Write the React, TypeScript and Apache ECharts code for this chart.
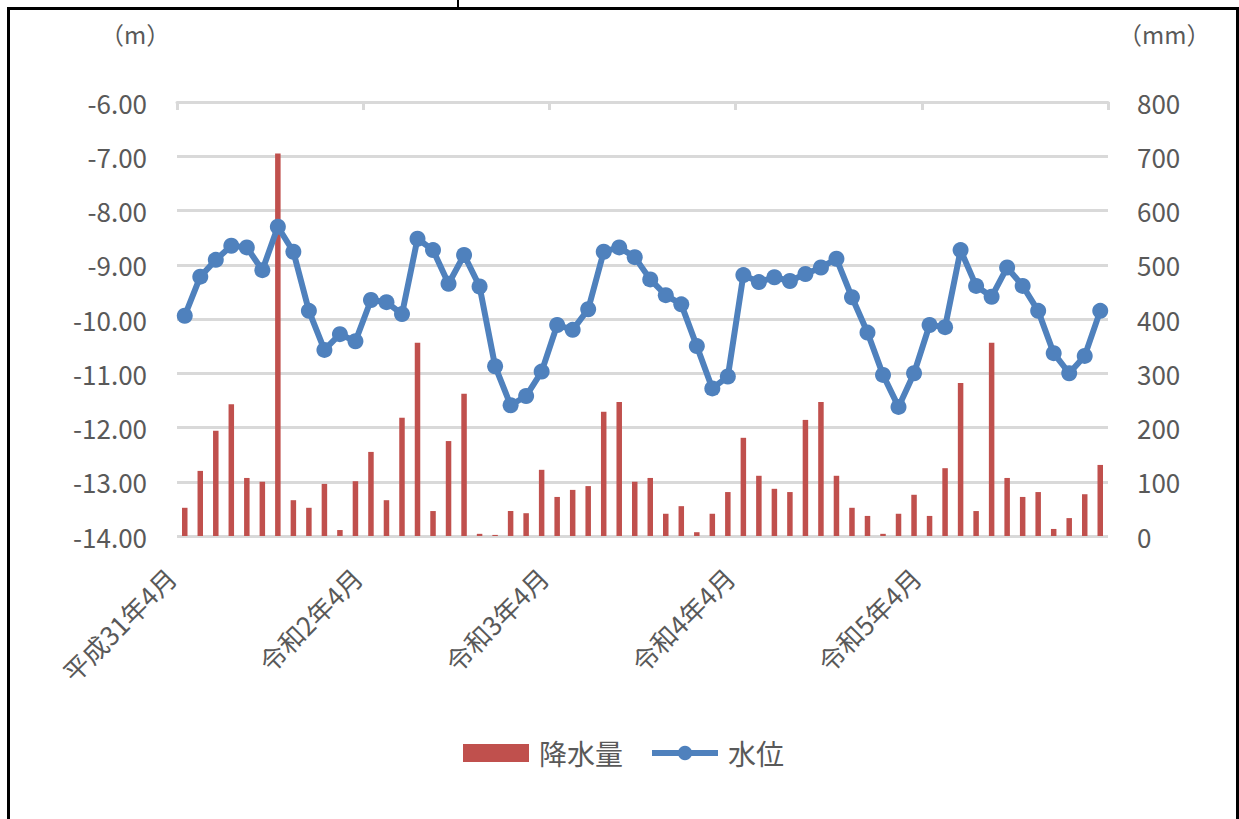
import React, { useEffect, useRef } from "react";
import * as echarts from "echarts";

// Monthly categories: 平成31年4月 … 令和6年3月 (60 months)
const months: string[] = (() => {
  const out: string[] = [];
  for (let k = 0; k < 60; k++) {
    const m0 = 3 + k; // 0-based month index from Jan 2019
    const year = 2019 + Math.floor(m0 / 12);
    const month = (m0 % 12) + 1;
    let era: string;
    if (year === 2019 && month === 4) era = "平成31年";
    else if (year === 2019) era = "令和元年";
    else era = `令和${year - 2018}年`;
    out.push(`${era}${month}月`);
  }
  return out;
})();

// 水位 (m)
const waterLevel: number[] = [
  -9.94, -9.22, -8.91, -8.65, -8.68, -9.10, -8.30, -8.76, -9.85, -10.57,
  -10.28, -10.41, -9.65, -9.69, -9.91, -8.52, -8.73, -9.35, -8.82, -9.40,
  -10.87, -11.59, -11.42, -10.97, -10.11, -10.20, -9.82, -8.76, -8.68, -8.86,
  -9.27, -9.56, -9.73, -10.50, -11.28, -11.06, -9.19, -9.32, -9.23, -9.30,
  -9.17, -9.05, -8.89, -9.60, -10.25, -11.03, -11.62, -11.00, -10.11, -10.15,
  -8.73, -9.39, -9.59, -9.05, -9.39, -9.85, -10.63, -11.00, -10.68, -9.85,
];

// 降水量 (mm)
const rainfall: number[] = [
  52, 120, 194, 243, 107, 100, 705, 66, 52, 96,
  11, 101, 155, 66, 218, 356, 46, 175, 262, 4,
  2, 46, 42, 122, 72, 85, 92, 229, 247, 100,
  107, 41, 55, 7, 41, 81, 181, 111, 87, 81,
  214, 247, 111, 52, 37, 4, 41, 76, 37, 125,
  282, 46, 356, 107, 72, 81, 13, 33, 77, 131,
];

const leftUnit = "（m）";
const rightUnit = "（mm）";
const seriesNames = ["降水量", "水位"];

const FONT = "'Noto Sans CJK JP', 'Noto Sans', sans-serif";
const TEXT_COLOR = "#595959";
const GRID_COLOR = "#d9d9d9";
const LINE_COLOR = "#4f81bd";
const BAR_COLOR = "#c0504d";

export default function App() {
  const ref = useRef<HTMLDivElement>(null);
  useEffect(() => {
    document.body.style.margin = "0";
    const chart = echarts.init(ref.current!, undefined, { renderer: "svg" });
    chart.setOption({
      animation: false,
      backgroundColor: "#ffffff",
      textStyle: { fontFamily: FONT },
      grid: { left: 177, right: 131, top: 102, bottom: 283, containLabel: false },
      legend: {
        left: 463,
        top: 739,
        padding: 0,
        itemWidth: 66,
        itemHeight: 18,
        itemGap: 26,
        textStyle: { fontSize: 28, color: TEXT_COLOR, fontFamily: FONT, padding: [0, 0, 0, 5] },
        data: [
          { name: seriesNames[0], icon: "rect" },
          { name: seriesNames[1], lineStyle: { width: 6, color: LINE_COLOR } },
        ],
      },
      xAxis: [
        {
          type: "category",
          data: months,
          position: "bottom",
          boundaryGap: true,
          axisLine: { show: false },
          axisTick: { show: false },
          axisLabel: {
            interval: 11,
            rotate: 45,
            margin: 22,
            padding: [0, 20, 0, 0],
            fontSize: 26,
            color: TEXT_COLOR,
            fontFamily: FONT,
          },
          splitLine: { show: false },
        },
        {
          type: "category",
          data: months,
          position: "top",
          boundaryGap: true,
          axisLine: { show: true, lineStyle: { color: GRID_COLOR, width: 3 } },
          axisTick: {
            show: true,
            inside: true,
            interval: 11,
            length: 8,
            lineStyle: { color: GRID_COLOR, width: 3 },
          },
          axisLabel: { show: false },
          splitLine: { show: false },
        },
      ],
      yAxis: [
        {
          type: "value",
          min: -14,
          max: -6,
          interval: 1,
          position: "left",
          axisLine: { show: false },
          axisTick: { show: false },
          axisLabel: {
            margin: 30,
            fontSize: 26,
            color: TEXT_COLOR,
            fontFamily: FONT,
            formatter: (v: number) => v.toFixed(2),
          },
          splitLine: { show: true, lineStyle: { color: GRID_COLOR, width: 3 } },
        },
        {
          type: "value",
          min: 0,
          max: 800,
          interval: 100,
          position: "right",
          axisLine: { show: false },
          axisTick: { show: false },
          axisLabel: {
            margin: 29,
            fontSize: 26,
            color: TEXT_COLOR,
            fontFamily: FONT,
          },
          splitLine: { show: false },
        },
      ],
      series: [
        {
          name: seriesNames[0],
          type: "bar",
          xAxisIndex: 0,
          yAxisIndex: 1,
          data: rainfall,
          barWidth: 5.5,
          itemStyle: { color: BAR_COLOR },
          z: 2,
        },
        {
          name: seriesNames[1],
          type: "line",
          xAxisIndex: 0,
          yAxisIndex: 0,
          data: waterLevel,
          symbol: "circle",
          symbolSize: 16,
          showAllSymbol: true,
          lineStyle: { color: LINE_COLOR, width: 6 },
          itemStyle: { color: LINE_COLOR },
          z: 3,
        },
      ],
      graphic: [
        {
          type: "text",
          left: 100,
          top: 21,
          style: { text: leftUnit, fontSize: 24, fill: TEXT_COLOR, fontFamily: FONT },
        },
        {
          type: "text",
          left: 1118,
          top: 21,
          style: { text: rightUnit, fontSize: 24, fill: TEXT_COLOR, fontFamily: FONT },
        },
        { type: "rect", shape: { x: 7, y: 7, width: 1232, height: 3 }, style: { fill: "#000" } },
        { type: "rect", shape: { x: 7, y: 7, width: 3, height: 812 }, style: { fill: "#000" } },
        { type: "rect", shape: { x: 1236, y: 7, width: 3, height: 812 }, style: { fill: "#000" } },
        { type: "rect", shape: { x: 457, y: 0, width: 2, height: 8 }, style: { fill: "#000" } },
      ],
    });
    return () => chart.dispose();
  }, []);
  return <div ref={ref} style={{ width: 1239, height: 819 }} />;
}
